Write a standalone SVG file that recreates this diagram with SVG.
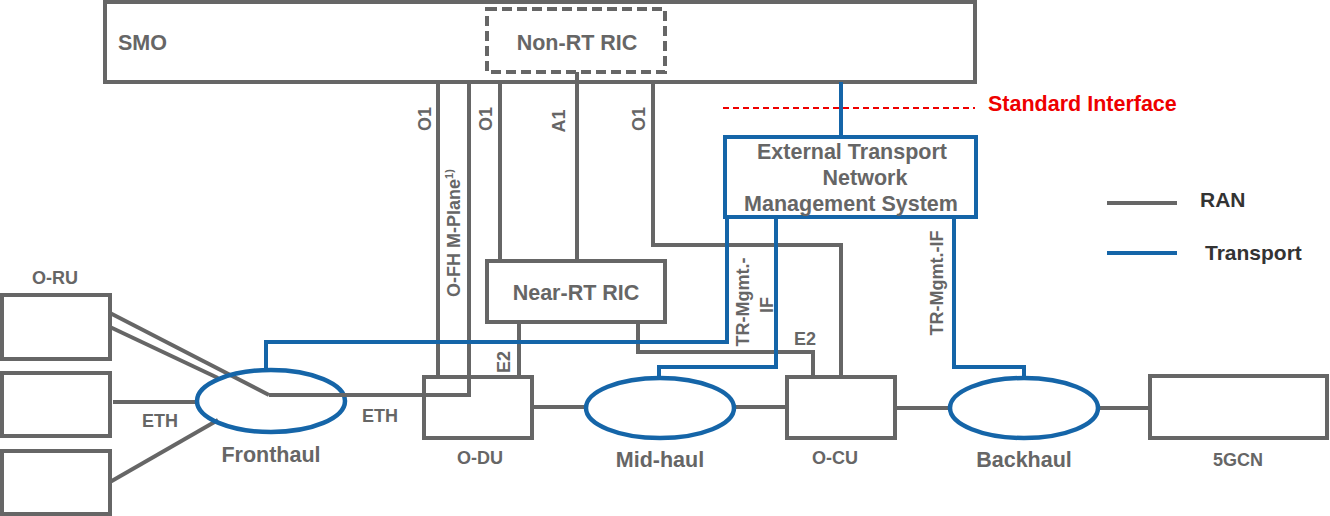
<svg xmlns="http://www.w3.org/2000/svg" width="1330" height="516" viewBox="0 0 1330 516">
<style>
.box{fill:#fff;stroke:#666;stroke-width:4}
.tbox{fill:#fff;stroke:#1565a8;stroke-width:4}
.ell{fill:#fff;stroke:#1565a8;stroke-width:4.5}
.ran{fill:none;stroke:#666;stroke-width:4}
.tr{fill:none;stroke:#1565a8;stroke-width:4}
text{font-family:"Liberation Sans",Arial,sans-serif;font-weight:bold;fill:#666}
.l{font-size:21.5px}
.s{font-size:18px}
.lg{font-size:21px;fill:#333}
</style>
<rect width="1330" height="516" fill="#fff"/>
<g id="smo">
<rect class="box" x="105" y="2" width="870" height="80"/>
<text class="l" x="118" y="50">SMO</text>
</g>
<g id="nonrtric">
<rect x="487" y="9" width="178" height="63" fill="#fff" stroke="#666" stroke-width="4" stroke-dasharray="10,5"/>
<text class="l" x="577" y="50" text-anchor="middle">Non-RT RIC</text>
</g>
<g id="connectors">
<line x1="723" y1="108" x2="975" y2="108" stroke="#e00" stroke-width="2" stroke-dasharray="6,4"/>
<!-- RAN -->
<polyline class="ran" points="438,82 438,377"/>
<polyline class="ran" points="469,82 469,395 269,395"/>
<polyline class="ran" points="500,82 500,261"/>
<polyline class="ran" points="577,72 577,261"/>
<polyline class="ran" points="653,82 653,245 841,245 841,377"/>
<polyline class="ran" points="519,322 519,377"/>
<polyline class="ran" points="638,322 638,352 813,352 813,377"/>
<line class="ran" x1="110" y1="313" x2="269" y2="395"/>
<line class="ran" x1="110" y1="327" x2="218" y2="378"/>
<line class="ran" x1="113" y1="402" x2="197" y2="402"/>
<line class="ran" x1="110" y1="482" x2="218" y2="420"/>
<line class="ran" x1="532" y1="407" x2="586" y2="407"/>
<line class="ran" x1="734" y1="407" x2="787" y2="407"/>
<line class="ran" x1="895" y1="408" x2="950" y2="408"/>
<line class="ran" x1="1098" y1="408" x2="1150" y2="408"/>
<!-- Transport -->
<polyline class="tr" points="841,82 841,137"/>
<polyline class="tr" points="266,370 266,342 727,342 727,217"/>
<polyline class="tr" points="776,217 776,367 659,367 659,378"/>
<polyline class="tr" points="954,217 954,367 1024,367 1024,378"/>
</g>
<g id="fronthaul">
<ellipse class="ell" cx="271" cy="401" rx="74" ry="31" fill="none" style="fill:none"/>
<text class="l" x="271" y="462" text-anchor="middle">Fronthaul</text>
</g>
<line class="ran" x1="269" y1="395" x2="425" y2="395"/>
<g id="midhaul">
<ellipse class="ell" cx="660" cy="408" rx="74" ry="30"/>
<text class="l" x="660" y="467" text-anchor="middle">Mid-haul</text>
</g>
<g id="backhaul">
<ellipse class="ell" cx="1024" cy="408" rx="74" ry="30"/>
<text class="l" x="1024" y="467" text-anchor="middle">Backhaul</text>
</g>
<g id="etnms">
<rect class="tbox" x="725" y="137" width="251" height="80"/>
<text class="l" x="852" y="159" text-anchor="middle">External Transport</text>
<text class="l" x="865" y="185" text-anchor="middle">Network</text>
<text class="l" x="851" y="211" text-anchor="middle">Management System</text>
</g>
<g id="nearrtric">
<rect class="box" x="487" y="261" width="178" height="61"/>
<text class="l" x="576" y="300" text-anchor="middle">Near-RT RIC</text>
</g>
<g id="odu">
<rect class="box" x="424" y="377" width="108" height="61" style="fill:none"/>
<text class="s" x="480" y="464" text-anchor="middle">O-DU</text>
</g>
<g id="ocu">
<rect class="box" x="787" y="377" width="108" height="61"/>
<text class="s" x="835" y="464" text-anchor="middle">O-CU</text>
</g>
<g id="fivegcn">
<rect class="box" x="1150" y="376" width="177" height="62"/>
<text class="s" x="1238" y="466" text-anchor="middle">5GCN</text>
</g>
<g id="oru">
<text class="s" x="55" y="284" text-anchor="middle">O-RU</text>
<rect class="box" x="2" y="295" width="108" height="64"/>
<rect class="box" x="2" y="373" width="108" height="63"/>
<rect class="box" x="2" y="451" width="108" height="63"/>
</g>
<g id="labels">
<text class="s" x="160" y="427" text-anchor="middle">ETH</text>
<text class="s" x="380" y="422" text-anchor="middle">ETH</text>
<text class="s" transform="translate(431,119) rotate(-90)" text-anchor="middle">O1</text>
<text class="s" transform="translate(492,119) rotate(-90)" text-anchor="middle">O1</text>
<text class="s" transform="translate(565,121) rotate(-90)" text-anchor="middle">A1</text>
<text class="s" transform="translate(645,119) rotate(-90)" text-anchor="middle">O1</text>
<text class="s" transform="translate(460,233) rotate(-90)" text-anchor="middle">O-FH M-Plane<tspan font-size="11" dy="-7">1)</tspan></text>
<text class="s" transform="translate(510,362) rotate(-90)" text-anchor="middle">E2</text>
<text class="s" x="805" y="345" text-anchor="middle">E2</text>
<text class="s" transform="translate(749,302) rotate(-90)" text-anchor="middle">TR-Mgmt.-</text>
<text class="s" transform="translate(773,305) rotate(-90)" text-anchor="middle">IF</text>
<text class="s" transform="translate(943,283) rotate(-90)" text-anchor="middle">TR-Mgmt.-IF</text>
<text class="l" x="988" y="111" style="fill:#e00">Standard Interface</text>
</g>
<g id="legend">
<line x1="1107" y1="203" x2="1177" y2="203" stroke="#666" stroke-width="4"/>
<text class="lg" x="1200" y="207">RAN</text>
<line x1="1107" y1="253" x2="1177" y2="253" stroke="#1565a8" stroke-width="4"/>
<text class="lg" x="1205" y="260">Transport</text>
</g>
</svg>
